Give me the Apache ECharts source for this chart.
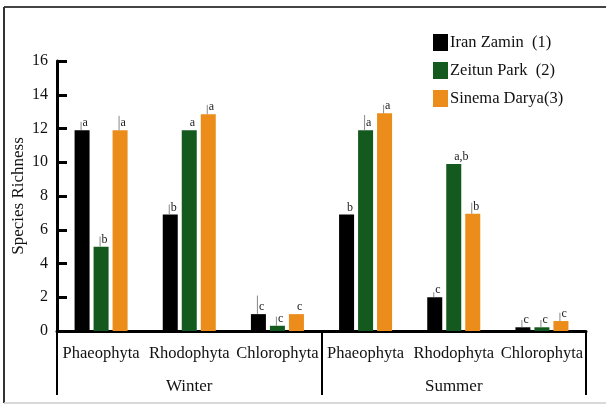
<!DOCTYPE html>
<html>
<head>
<meta charset="utf-8">
<script src="https://cdn.jsdelivr.net/npm/echarts@6/dist/echarts.min.js"></script>
<style>
html,body{margin:0;padding:0;background:#fff;}
#chart{width:606px;height:405px;}
</style>
</head>
<body>
<div id="chart"></div>
<script>
// ---- data ----
const categories = ['Phaeophyta', 'Rhodophyta', 'Chlorophyta', 'Phaeophyta', 'Rhodophyta', 'Chlorophyta'];
const seasons = ['Winter', 'Summer'];
const seriesNames = ['Iran Zamin  (1)', 'Zeitun Park  (2)', 'Sinema Darya(3)'];
const iranZamin = [11.9, 6.9, 1.0, 6.9, 2.0, 0.22];
const zeitunPark = [5.0, 11.9, 0.31, 11.9, 9.9, 0.22];
const sinemaDarya = [11.9, 12.85, 1.0, 12.9, 6.95, 0.59];
const iranZaminUpper = [12.4, 7.5, 2.1, 6.9, 2.3, 0.65];
const zeitunParkUpper = [5.6, 11.9, 0.85, 12.8, 9.9, 0.65];
const sinemaDaryaUpper = [12.75, 13.4, 1.0, 13.4, 7.6, 1.08];
const iranZaminLetters = ['a', 'b', 'c', 'b', 'c', 'c'];
const zeitunParkLetters = ['b', 'a', 'c', 'a', 'a,b', 'c'];
const sinemaDaryaLetters = ['a', 'a', 'c', 'a', 'b', 'c'];
const yTicks = { min: 0, max: 16, interval: 2 };

// ---- styling ----
const colors = ['#000000', '#145a1e', '#ec8c1a'];
const FONT = '"Liberation Serif", "Times New Roman", serif';
const BAR_W = 15, BAR_GAP = 4;

const values = [iranZamin, zeitunPark, sinemaDarya];
const uppers = [iranZaminUpper, zeitunParkUpper, sinemaDaryaUpper];
const letters = [iranZaminLetters, zeitunParkLetters, sinemaDaryaLetters];

const barSeries = seriesNames.map((name, i) => ({
  name: name,
  type: 'bar',
  data: values[i],
  barWidth: BAR_W,
  barGap: (BAR_GAP / BAR_W * 100).toFixed(1) + '%',
  itemStyle: { color: colors[i] },
  silent: true
}));

const annotSeries = values.map((vals, i) => ({
  type: 'custom',
  silent: true,
  z: 5,
  data: vals.map((v, j) => [j, v, uppers[i][j]]),
  renderItem: function (params, api) {
    const c = api.value(0), v = api.value(1), up = api.value(2);
    const p = api.coord([c, v]);
    const off = (i - 1) * (BAR_W + BAR_GAP);
    const x = p[0] + off - 1;
    const children = [];
    if (up > v + 0.01) {
      const pt = api.coord([c, up]);
      children.push({
        type: 'line',
        shape: { x1: x, y1: p[1], x2: x, y2: pt[1] },
        style: { stroke: '#888', lineWidth: 1 }
      });
    }
    children.push({
      type: 'text',
      style: {
        text: letters[i][params.dataIndex],
        x: x + 1.5,
        y: p[1] - 1,
        fill: '#222',
        font: '12px ' + FONT,
        textAlign: 'left',
        textVerticalAlign: 'bottom'
      }
    });
    return { type: 'group', children: children };
  }
}));

const chart = echarts.init(document.getElementById('chart'), null, { renderer: 'canvas' });
chart.setOption({
  animation: false,
  backgroundColor: '#fff',
  textStyle: { fontFamily: FONT },
  grid: { left: 57, right: 20, top: 61, bottom: 74, containLabel: false, outerBoundsMode: 'none' },
  legend: {
    data: seriesNames,
    orient: 'vertical',
    left: 433,
    top: 34,
    padding: 0,
    itemWidth: 15,
    itemHeight: 17,
    itemGap: 11,
    icon: 'rect',
    textStyle: { fontFamily: FONT, fontSize: 16.5, color: '#111', padding: [0, 0, 0, -3] },
    selectedMode: false
  },
  xAxis: [
    {
      type: 'category',
      data: categories,
      position: 'bottom',
      axisLine: { lineStyle: { color: '#000', width: 3 } },
      axisTick: { show: false },
      axisLabel: { interval: 0, margin: 14, fontFamily: FONT, fontSize: 16.5, color: '#111' }
    },
    {
      type: 'category',
      data: seasons,
      position: 'bottom',
      axisLine: { show: false },
      axisTick: { show: true, length: 64, lineStyle: { color: '#000', width: 2 } },
      axisLabel: { interval: 0, margin: 47, fontFamily: FONT, fontSize: 17, color: '#111' }
    }
  ],
  yAxis: {
    type: 'value',
    min: yTicks.min,
    max: yTicks.max,
    interval: yTicks.interval,
    name: 'Species Richness',
    nameLocation: 'middle',
    nameGap: 30,
    nameMoveOverlap: false,
    nameTextStyle: { fontFamily: FONT, fontSize: 17, color: '#111' },
    axisLine: { show: true, lineStyle: { color: '#000', width: 3 } },
    axisTick: { show: true, inside: true, length: 10, lineStyle: { color: '#000', width: 3 } },
    axisLabel: { margin: 9, fontFamily: FONT, fontSize: 16, color: '#111' },
    splitLine: { show: false }
  },
  series: barSeries.concat(annotSeries),
  graphic: [
    { type: 'line', shape: { x1: 4, y1: 7, x2: 606, y2: 7 }, style: { stroke: '#444', lineWidth: 2 } },
    { type: 'line', shape: { x1: 4, y1: 7, x2: 4, y2: 403 }, style: { stroke: '#333', lineWidth: 2 } },
    { type: 'line', shape: { x1: 4, y1: 403, x2: 606, y2: 403 }, style: { stroke: '#ccc', lineWidth: 1.5 } }
  ]
});
</script>
</body>
</html>
